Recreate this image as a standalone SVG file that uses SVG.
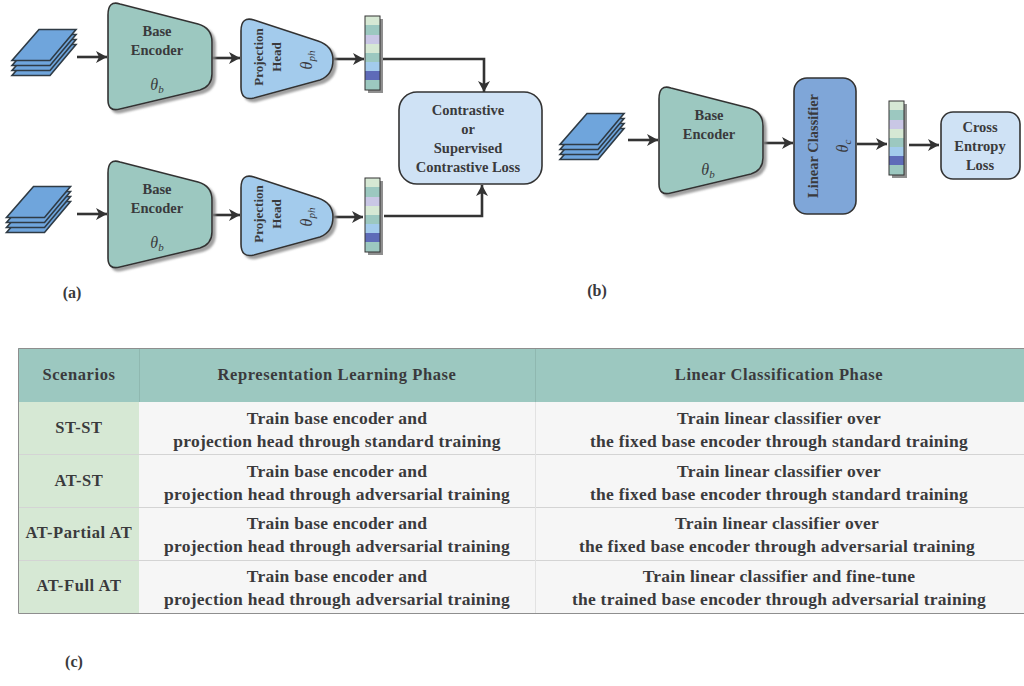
<svg xmlns="http://www.w3.org/2000/svg" xmlns:xlink="http://www.w3.org/1999/xlink" width="1024" height="686" viewBox="0 0 1024 686">
<style>
text{font-family:"Liberation Serif","Times New Roman",serif;font-weight:700;fill:#3a3a3c;text-anchor:middle}
.d{font-size:14.5px}
.t{font-size:17.5px;letter-spacing:.25px}
.h{font-size:16.5px;letter-spacing:.6px}
.l{font-size:16px}
.th{font-style:italic;font-weight:400;font-size:16px}
.sub{font-size:11px}
.s{stroke:#333;stroke-width:1.6}
.enc{fill:#9cc8c0}
.ph{fill:#a3cbec}
.ln{fill:none;stroke:#333;stroke-width:2.6;marker-end:url(#a)}
.sh{filter:url(#ds)}
</style>
<defs>
<filter id="ds" x="-10%" y="-10%" width="125%" height="125%"><feDropShadow dx="3" dy="3" stdDeviation="1.2" flood-color="#888" flood-opacity=".8"/></filter>
<marker id="a" markerUnits="userSpaceOnUse" markerWidth="12" markerHeight="14" refX="11" refY="6" orient="auto" viewBox="0 0 12 12"><path d="M0 0L11 6L0 12L3 6Z" fill="#333"/></marker>
<path id="encP" d="M108 15Q108 0 120 4L198 24Q212 28 212 42L212 74Q212 86 200 90L120 109Q108 112 108 100Z"/>
<path id="phP" d="M241 31Q241 16 254 20L318 41Q333 46 333 60Q333 75 320 80L254 98Q241 101 241 87Z"/>
<g id="st">
<path id="sh1" d="M39 44.500H76L50 75.500H12Z" fill="#6fa5dc" stroke="#2f3b45" stroke-width="1.600"/>
<path d="M39 39.500H76L50 70.500H12Z" fill="#6fa5dc" stroke="#2f3b45" stroke-width="1.600"/>
<path d="M39 34.500H76L50 65.500H12Z" fill="#6fa5dc" stroke="#2f3b45" stroke-width="1.600"/>
<path d="M39 29.500H76L50 60.500H12Z" fill="#6fa5dc" stroke="#2f3b45" stroke-width="1.600"/>
</g>
<g id="vec">
<rect x="3" y="3" width="15" height="74" fill="#8f8f8f"/>
<rect width="15" height="9" fill="#d6e8d4"/><rect y="9" width="15" height="10" fill="#9cc8c0"/><rect y="19" width="15" height="9" fill="#c9c7e5"/><rect y="28" width="15" height="9" fill="#d6e8d4"/><rect y="37" width="15" height="9" fill="#9cc8c0"/><rect y="46" width="15" height="9" fill="#a3cbec"/><rect y="55" width="15" height="9" fill="#5e6bb8"/><rect y="64" width="15" height="10" fill="#9cc8c0"/>
<rect width="15" height="74" fill="none" stroke="#333" stroke-width="1"/>
</g>
</defs>
<rect width="1024" height="686" fill="#fff"/>
<g id="connectors">
<path class="ln" d="M77 57H107"/><path class="ln" d="M212 58H240"/><path class="ln" d="M334 59H364"/><path class="ln" d="M383 59H484V92"/>
<path class="ln" d="M77 214H107"/><path class="ln" d="M213 215H240"/><path class="ln" d="M334 217H363"/><path class="ln" d="M384 216H482V185"/>
<path class="ln" d="M628 140H658"/><path class="ln" d="M764 143H793"/><path class="ln" d="M857 144H887"/><path class="ln" d="M909 145H939"/>
</g>
<g id="stack-a1"><use href="#st"/></g>
<g id="stack-a2"><use href="#st" transform="translate(-5.500 157)"/></g>
<g id="stack-b"><use href="#st" transform="translate(548 84)"/></g>
<g id="encoder-a1"><use href="#encP" class="enc s sh"/><text class="d" x="157" y="36">Base</text><text class="d" x="157" y="55">Encoder</text><text class="th" x="157" y="90">θ<tspan class="sub" dy="3">b</tspan></text></g>
<g id="encoder-a2"><use href="#encP" y="158" class="enc s sh"/><text class="d" x="157" y="194">Base</text><text class="d" x="157" y="213">Encoder</text><text class="th" x="157" y="248">θ<tspan class="sub" dy="3">b</tspan></text></g>
<g id="encoder-b"><use href="#encP" x="551" y="84" class="enc s sh"/><text class="d" x="709" y="120">Base</text><text class="d" x="709" y="139">Encoder</text><text class="th" x="708" y="175">θ<tspan class="sub" dy="3">b</tspan></text></g>
<g id="head-a1"><use href="#phP" class="ph s sh"/><text class="d" style="font-size:13px" transform="translate(263 57) rotate(-90)">Projection</text><text class="d" style="font-size:13px" transform="translate(281 57) rotate(-90)">Head</text><text class="th" transform="translate(312 60) rotate(-90)">θ<tspan class="sub" dy="3">ph</tspan></text></g>
<g id="head-a2"><use href="#phP" y="157" class="ph s sh"/><text class="d" style="font-size:13px" transform="translate(263 214) rotate(-90)">Projection</text><text class="d" style="font-size:13px" transform="translate(281 214) rotate(-90)">Head</text><text class="th" transform="translate(312 217) rotate(-90)">θ<tspan class="sub" dy="3">ph</tspan></text></g>
<g id="vector-a1"><use href="#vec" x="365" y="16"/></g>
<g id="vector-a2"><use href="#vec" x="365" y="178"/></g>
<g id="vector-b"><use href="#vec" x="889" y="101"/></g>
<g id="loss-contrastive"><rect x="399" y="92" width="143" height="92" rx="18" fill="#cfe2f5" class="s"/><text class="d" x="468" y="115">Contrastive</text><text class="d" x="468" y="134">or</text><text class="d" x="468" y="153">Supervised</text><text class="d" x="468" y="172">Contrastive Loss</text></g>
<g id="classifier"><rect x="794" y="78" width="62" height="136" rx="13" fill="#7fa6d8" class="s"/><text class="d" transform="translate(818 146) rotate(-90)">Linear Classifier</text><text class="th" transform="translate(848 146) rotate(-90)">θ<tspan class="sub" dy="3">c</tspan></text></g>
<g id="loss-ce"><rect x="941" y="112" width="79" height="67" rx="12" fill="#cfe2f5" class="s"/><text class="d" x="980" y="132">Cross</text><text class="d" x="980" y="151">Entropy</text><text class="d" x="980" y="170">Loss</text></g>
<text class="l" x="72" y="298">(a)</text><text class="l" x="597" y="296">(b)</text><text class="l" x="74" y="667">(c)</text>
<g id="table">
<rect x="18" y="348" width="1006" height="54" fill="#9cc8c0"/>
<rect x="18" y="402" width="121" height="211" fill="#d6e8d4"/>
<rect x="139" y="402" width="885" height="211" fill="#f6f6f6"/>
<path d="M18 454.500H1024M18 507.500H1024M18 560.500H1024" stroke="#d4d4d4" fill="none"/>
<path d="M139.500 348V402M535.500 348V402" stroke="#8fb8b0" fill="none"/>
<path d="M535.500 402V613" stroke="#e2e2e2" fill="none"/>
<path d="M1024 348.500H18.500V613.500H1024" fill="none" stroke="#8e8e8e"/>
<text class="h" x="79" y="380">Scenarios</text><text class="h" x="337" y="380">Representation Learning Phase</text><text class="h" x="779" y="380">Linear Classification Phase</text>
<text class="h" x="79" y="433">ST-ST</text><text class="t" x="337" y="424">Train base encoder and</text><text class="t" x="337" y="447">projection head through standard training</text><text class="t" x="779" y="424">Train linear classifier over</text><text class="t" x="779" y="447">the fixed base encoder through standard training</text>
<text class="h" x="79" y="486">AT-ST</text><text class="t" x="337" y="477">Train base encoder and</text><text class="t" x="337" y="500">projection head through adversarial training</text><text class="t" x="779" y="477">Train linear classifier over</text><text class="t" x="779" y="500">the fixed base encoder through standard training</text>
<text class="h" x="79" y="538">AT-Partial AT</text><text class="t" x="337" y="529">Train base encoder and</text><text class="t" x="337" y="552">projection head through adversarial training</text><text class="t" x="777" y="529">Train linear classifier over</text><text class="t" x="777" y="552">the fixed base encoder through adversarial training</text>
<text class="h" x="79" y="591">AT-Full AT</text><text class="t" x="337" y="582">Train base encoder and</text><text class="t" x="337" y="605">projection head through adversarial training</text><text class="t" x="779" y="582">Train linear classifier and fine-tune</text><text class="t" x="779" y="605">the trained base encoder through adversarial training</text>
</g>
</svg>
